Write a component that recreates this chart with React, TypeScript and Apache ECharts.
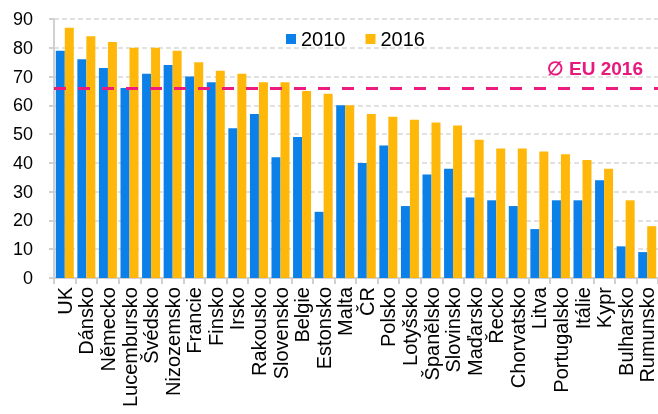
import React, { useEffect, useRef } from "react";
import * as echarts from "echarts";

const categories = [
  "UK", "Dánsko", "Německo", "Lucembursko", "Švédsko", "Nizozemsko", "Francie", "Finsko",
  "Irsko", "Rakousko", "Slovensko", "Belgie", "Estonsko", "Malta", "ČR", "Polsko",
  "Lotyšsko", "Španělsko", "Slovinsko", "Maďarsko", "Řecko", "Chorvatsko", "Litva",
  "Portugalsko", "Itálie", "Kypr", "Bulharsko", "Rumunsko",
];
const values2010 = [79, 76, 73, 66, 71, 74, 70, 68, 52, 57, 42, 49, 23, 60, 40, 46, 25, 36, 38, 28, 27, 25, 17, 27, 27, 34, 11, 9];
const values2016 = [87, 84, 82, 80, 80, 79, 75, 72, 71, 68, 68, 65, 64, 60, 57, 56, 55, 54, 53, 48, 45, 45, 44, 43, 41, 38, 27, 18];
const euAverage2016 = 66;
const euLabel = "∅ EU 2016";

export default function App() {
  const ref = useRef<HTMLDivElement>(null);
  useEffect(() => {
    if (!ref.current) return;
    document.body.style.margin = "0";
    document.body.style.overflow = "hidden";
    const chart = echarts.init(ref.current, undefined, { renderer: "svg", width: 658, height: 414 });
    const font = "Liberation Sans, Arial, sans-serif";
    chart.setOption({
      animation: false,
      textStyle: { fontFamily: font },
      legend: {
        top: 24,
        left: 281,
        itemWidth: 10,
        itemHeight: 10,
        itemGap: 20,
        icon: "rect",
        textStyle: { fontSize: 20, color: "#000", fontFamily: font },
        data: ["2010", "2016"],
      },
      grid: { left: 54, right: 0, top: 19, bottom: 136, containLabel: false },
      xAxis: {
        type: "category",
        data: categories,
        axisLine: { lineStyle: { color: "#d0d0d0", width: 2 } },
        axisTick: { show: true, length: 6, lineStyle: { color: "#d0d0d0", width: 2 } },
        axisLabel: {
          rotate: 90,
          interval: 0,
          fontSize: 20,
          color: "#000",
          margin: 9,
          fontFamily: font,
        },
      },
      yAxis: {
        type: "value",
        min: 0,
        max: 90,
        interval: 10,
        axisLine: { show: true, lineStyle: { color: "#d0d0d0", width: 2 } },
        axisTick: { show: true, length: 5, lineStyle: { color: "#d0d0d0", width: 2 } },
        axisLabel: { fontSize: 18, color: "#000", margin: 21, fontFamily: font },
        splitLine: { lineStyle: { color: "#d9d9d9", type: [5, 3], width: 1.5 } },
      },
      series: [
        {
          name: "2010",
          type: "bar",
          data: values2010,
          barWidth: 9,
          barGap: "0%",
          itemStyle: { color: "#0A80E8" },
          markLine: {
            silent: true,
            symbol: "none",
            label: { show: false },
            lineStyle: { color: "#EC1C7E", width: 3, type: [12, 12] },
            data: [{ yAxis: euAverage2016 }],
          },
        },
        {
          name: "2016",
          type: "bar",
          data: values2016,
          barWidth: 9,
          barGap: "0%",
          itemStyle: { color: "#FFB80A" },
        },
      ],
      graphic: [
        {
          type: "text",
          right: 15,
          top: 59,
          style: {
            text: euLabel,
            fill: "#E8197D",
            font: `bold 19px ${font}`,
          },
        },
      ],
    });
    return () => chart.dispose();
  }, []);
  return (
    <div
      ref={ref}
      style={{ position: "fixed", left: 0, top: 0, width: 658, height: 414, overflow: "hidden" }}
    />
  );
}
